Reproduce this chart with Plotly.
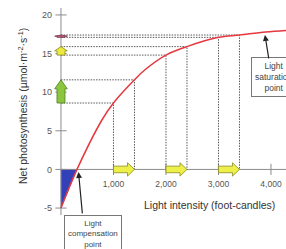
import plotly.graph_objects as go

# ---- data ----
curve_x = [0, 305, 780, 1000, 1400, 1600, 2000, 2400, 3000, 3400, 3900, 4286]
curve_y = [-5, 0, 6.4, 8.6, 11.6, 12.9, 14.8, 15.9, 17.1, 17.4, 17.8, 18.0]
comp_x = 305                                  # light compensation point
step_low_x = [1000, 2000, 3000]               # start of each 400 fc step
step_high_x = [1400, 2400, 3400]              # end of each step
step_low_y = [8.6, 14.8, 17.1]                # response at start
step_high_y = [11.6, 15.9, 17.4]              # response at end
y_arrow_colors = ["#8cc63e", "#eaea40", "#b8607a"]
y_arrow_lines = ["#4f7f1f", "#8a8a20", "#7a3050"]
y_tickvals = [-5, 0, 5, 10, 15, 20]
y_ticktext = ["-5", "0", "5", "10", "15", "20"]
x_tickvals = [1000, 2000, 3000, 4000]
x_ticktext = ["1,000", "2,000", "3,000", "4,000"]

# ---- layout geometry ----
W, H = 286, 249
ML, MR, MT, MB = 52, 0, 8, 34
xr = [-171, 4286]
yr = [-5.9, 20.9]
pw, ph = W - ML - MR, H - MT - MB
px_x = (xr[1] - xr[0]) / pw      # data units per pixel (x)
px_y = (yr[1] - yr[0]) / ph      # data units per pixel (y)


def paper_x(px):
    return (px - ML) / pw


def paper_y(py):
    return (H - MB - py) / ph


GRAY = "#8c8c8c"
DOT = "#5a5a5a"
FONT = "Liberation Sans, Arial, sans-serif"

fig = go.Figure()

# blue triangle below zero
tri_x = [0] + curve_x[:2] + [0]
tri_y = [0] + curve_y[:2] + [0]
fig.add_trace(go.Scatter(x=tri_x, y=tri_y, fill="toself", fillcolor="#3440b8",
                         line=dict(color="#3440b8", width=0.5), mode="lines",
                         hoverinfo="skip", showlegend=False))

# axes lines
fig.add_trace(go.Scatter(x=[0, 0], y=yr, mode="lines", line=dict(color=GRAY, width=1),
                         hoverinfo="skip", showlegend=False))
fig.add_trace(go.Scatter(x=[0, xr[1]], y=[0, 0], mode="lines", line=dict(color=GRAY, width=1),
                         hoverinfo="skip", showlegend=False))
# crossing ticks
fig.add_trace(go.Scatter(x=[0] * len(y_tickvals), y=y_tickvals, mode="markers",
                         marker=dict(symbol="line-ew", size=8, line=dict(color=GRAY, width=1)),
                         hoverinfo="skip", showlegend=False))
fig.add_trace(go.Scatter(x=x_tickvals, y=[0] * len(x_tickvals), mode="markers",
                         marker=dict(symbol="line-ns", size=8, line=dict(color=GRAY, width=1)),
                         hoverinfo="skip", showlegend=False))

# dotted guide lines
for xs, ys in ((step_low_x, step_low_y), (step_high_x, step_high_y)):
    for xv, yv in zip(xs, ys):
        fig.add_trace(go.Scatter(x=[0, xv, xv], y=[yv, yv, 0], mode="lines",
                                 line=dict(color=DOT, width=1, dash="1.5px,1.2px"),
                                 hoverinfo="skip", showlegend=False))


def block_arrow_h(x0, x1, yc, bh, hh, hl):
    xb = x1 - hl
    xs = [x0, xb, xb, x1, xb, xb, x0, x0]
    ys = [yc - bh, yc - bh, yc - hh, yc, yc + hh, yc + bh, yc + bh, yc - bh]
    return xs, ys


def block_arrow_v(y0, y1, xc, bw, hw, hl):
    yb = y1 - hl
    xs = [xc - bw, xc - bw, xc - hw, xc, xc + hw, xc + bw, xc + bw, xc - bw]
    ys = [y0, yb, yb, y1, yb, yb, y0, y0]
    return xs, ys


# yellow arrows along x axis
for x0, x1 in zip(step_low_x, step_high_x):
    ax_, ay_ = block_arrow_h(x0, x1, 0, 3.3 * px_y, 6.7 * px_y, 7 * px_x)
    fig.add_trace(go.Scatter(x=ax_, y=ay_, fill="toself", fillcolor="#eef04a",
                             line=dict(color="#8a8a20", width=0.8), mode="lines",
                             hoverinfo="skip", showlegend=False))

# arrows along y axis
for y0, y1, fc, lc in zip(step_low_y, step_high_y, y_arrow_colors, y_arrow_lines):
    hl = min(9 * px_y, 0.5 * (y1 - y0))
    ax_, ay_ = block_arrow_v(y0, y1, 0, 4 * px_x, 6.3 * px_x, hl)
    fig.add_trace(go.Scatter(x=ax_, y=ay_, fill="toself", fillcolor=fc,
                             line=dict(color=lc, width=0.8), mode="lines",
                             hoverinfo="skip", showlegend=False))

# response curve
fig.add_trace(go.Scatter(x=curve_x, y=curve_y, mode="lines", line_shape="spline",
                         line=dict(color="#e5383f", width=1.5),
                         hoverinfo="skip", showlegend=False))

ann = []
C = dict(xanchor="center", yanchor="middle")
# axis titles
ann.append(dict(xref="paper", yref="paper", x=paper_x(22), y=paper_y(106),
                text="Net photosynthesis (µmol·m<sup>-2</sup>·s<sup>-1</sup>)", textangle=-90,
                showarrow=False, font=dict(size=10.5, color="#333", family=FONT), **C))
ann.append(dict(xref="paper", yref="paper", x=paper_x(209), y=paper_y(205),
                text="Light intensity (foot-candles)",
                showarrow=False, font=dict(size=10.5, color="#333", family=FONT), **C))
# callout boxes
ann.append(dict(xref="paper", yref="paper", x=paper_x(93), y=paper_y(234),
                text="Light<br>compensation<br>point", showarrow=False,
                font=dict(size=8, color="#444", family=FONT), bordercolor="#777",
                borderwidth=1, bgcolor="white", borderpad=3, **C))
ann.append(dict(xref="paper", yref="paper", x=paper_x(274), y=paper_y(77),
                text="Light<br>saturation<br>point", showarrow=False,
                font=dict(size=8.5, color="#444", family=FONT), bordercolor="#777",
                borderwidth=1, bgcolor="white", borderpad=3, **C))
# callout arrows
ann.append(dict(xref="x", yref="y", x=comp_x + 1.5 * px_x, y=-2.5 * px_y, text="",
                showarrow=True, arrowhead=2, arrowsize=1, arrowwidth=1.2, arrowcolor="#222",
                ax=4, ay=43))
ann.append(dict(xref="x", yref="y", x=(265 - 61) * px_x, y=(169.5 - 35) * px_y, text="",
                showarrow=True, arrowhead=2, arrowsize=1, arrowwidth=1.2, arrowcolor="#222",
                ax=4, ay=25))

fig.update_layout(
    width=W, height=H, margin=dict(l=ML, r=MR, t=MT, b=MB),
    paper_bgcolor="white", plot_bgcolor="white",
    font=dict(family=FONT, color="#555"),
    annotations=ann,
    xaxis=dict(range=xr, showgrid=False, zeroline=False, showline=False,
               anchor="free", position=-yr[0] / (yr[1] - yr[0]),
               tickvals=x_tickvals, ticktext=x_ticktext, ticks="",
               ticklabelstandoff=8, tickfont=dict(size=8.5, color="#555")),
    yaxis=dict(range=yr, showgrid=False, zeroline=False, showline=False,
               anchor="free", position=-xr[0] / (xr[1] - xr[0]),
               tickvals=y_tickvals, ticktext=y_ticktext, ticks="",
               ticklabelstandoff=9, tickfont=dict(size=9, color="#555")),
)

fig.write_html("out.html", config={"displayModeBar": False},
               post_script="document.body.style.margin='0';")
